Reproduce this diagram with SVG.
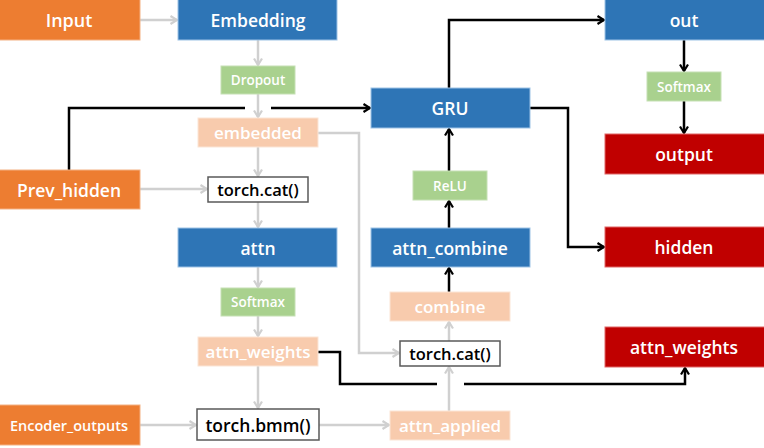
<svg xmlns="http://www.w3.org/2000/svg" width="764" height="448" viewBox="0 0 764 448">
<defs>
<style>
.t{font-family:"Open Sans","Noto Sans","DejaVu Sans",sans-serif;font-weight:600;text-anchor:middle;dominant-baseline:central;fill:#fff}
.or{fill:#ED7D31;stroke:#F4B183;stroke-width:1}
.bl{fill:#2E75B6;stroke:#9DC3E6;stroke-width:1}
.gr{fill:#A9D18E;stroke:#C5E0B4;stroke-width:1}
.pe{fill:#F8CBAD;stroke:#FBE5D6;stroke-width:1}
.rd{fill:#C00000;stroke:#E06666;stroke-width:1}
.wh{fill:#fff;stroke:#595959;stroke-width:1.5}
.g{fill:none;stroke:#D0D0D0;stroke-width:2.5}
.k{fill:none;stroke:#000;stroke-width:2.5}
</style>
<marker id="ag" viewBox="0 0 10 10" refX="8.5" refY="5" markerWidth="10" markerHeight="10" markerUnits="userSpaceOnUse" orient="auto"><path d="M2,1 L8.5,5 L2,9" fill="none" stroke="#D0D0D0" stroke-width="2.2"/></marker>
<marker id="ak" viewBox="0 0 10 10" refX="8.5" refY="5" markerWidth="10" markerHeight="10" markerUnits="userSpaceOnUse" orient="auto"><path d="M2,1 L8.5,5 L2,9" fill="none" stroke="#000" stroke-width="2.2"/></marker>
</defs>
<g id="connectors">
<path class="g" d="M140,20 H177" marker-end="url(#ag)"/>
<path class="g" d="M258,40 V65" marker-end="url(#ag)"/>
<path class="g" d="M258,94 V117" marker-end="url(#ag)"/>
<path class="k" d="M69,170 V108 H245"/>
<path class="k" d="M271,108 H370" marker-end="url(#ak)"/>
<path class="g" d="M258,147 V176" marker-end="url(#ag)"/>
<path class="g" d="M140,189 H207" marker-end="url(#ag)"/>
<path class="g" d="M258,202 V227" marker-end="url(#ag)"/>
<path class="g" d="M258,267 V287" marker-end="url(#ag)"/>
<path class="g" d="M258,316 V336" marker-end="url(#ag)"/>
<path class="g" d="M258,366 V408" marker-end="url(#ag)"/>
<path class="g" d="M140,425 H196" marker-end="url(#ag)"/>
<path class="g" d="M319,425 H389" marker-end="url(#ag)"/>
<path class="g" d="M449,411 V367" marker-end="url(#ag)"/>
<path class="g" d="M449,341 V322" marker-end="url(#ag)"/>
<path class="g" d="M318,133 H359 V353 H399" marker-end="url(#ag)"/>
<path class="k" d="M449,292 V268" marker-end="url(#ak)"/>
<path class="k" d="M449,228 V201" marker-end="url(#ak)"/>
<path class="k" d="M449,171 V129" marker-end="url(#ak)"/>
<path class="k" d="M449,88 V20 H604" marker-end="url(#ak)"/>
<path class="k" d="M530,108 H568 V247 H604" marker-end="url(#ak)"/>
<path class="k" d="M684,40 V71" marker-end="url(#ak)"/>
<path class="k" d="M684,101 V133" marker-end="url(#ak)"/>
<path class="k" d="M318,352 H340 V384 H437"/>
<path class="k" d="M464,384 H685 V368" marker-end="url(#ak)"/>
</g>
<g id="input"><rect class="or" x="-1" y="-1" width="141" height="41"/><text class="t" x="69" y="20" font-size="18">Input</text></g>
<g id="embedding"><rect class="bl" x="178" y="-1" width="159" height="41"/><text class="t" x="258" y="20" font-size="17.5">Embedding</text></g>
<g id="dropout"><rect class="gr" x="221" y="66" width="74" height="28"/><text class="t" x="258" y="80" font-size="13.5">Dropout</text></g>
<g id="embedded"><rect class="pe" x="198" y="118" width="120" height="29"/><text class="t" x="258" y="132.5" font-size="17">embedded</text></g>
<g id="prev_hidden"><rect class="or" x="-1" y="170" width="141" height="39"/><text class="t" x="69" y="189.5" font-size="17.5">Prev_hidden</text></g>
<g id="torch_cat_1"><rect class="wh" x="208" y="177" width="100" height="25"/><text class="t" x="258" y="189.5" font-size="16.5" style="fill:#000">torch.cat()</text></g>
<g id="attn"><rect class="bl" x="178" y="228" width="159" height="39"/><text class="t" x="258" y="247.5" font-size="17.5">attn</text></g>
<g id="softmax_1"><rect class="gr" x="221" y="288" width="74" height="28"/><text class="t" x="258" y="302" font-size="13.5">Softmax</text></g>
<g id="attn_weights_1"><rect class="pe" x="198" y="337" width="120" height="29"/><text class="t" x="258" y="351.5" font-size="17">attn_weights</text></g>
<g id="encoder_outputs"><rect class="or" x="-1" y="405" width="141" height="40"/><text class="t" x="69" y="425" font-size="14.5">Encoder_outputs</text></g>
<g id="torch_bmm"><rect class="wh" x="197" y="409" width="122" height="31"/><text class="t" x="258" y="424.5" font-size="17.5" style="fill:#000">torch.bmm()</text></g>
<g id="attn_applied"><rect class="pe" x="390" y="411" width="120" height="29"/><text class="t" x="450" y="425.5" font-size="17">attn_applied</text></g>
<g id="torch_cat_2"><rect class="wh" x="400" y="341" width="100" height="25"/><text class="t" x="450" y="353.5" font-size="16.5" style="fill:#000">torch.cat()</text></g>
<g id="combine"><rect class="pe" x="390" y="292" width="120" height="29"/><text class="t" x="450" y="306.5" font-size="17">combine</text></g>
<g id="attn_combine"><rect class="bl" x="371" y="228" width="159" height="39"/><text class="t" x="450" y="247.5" font-size="17.5">attn_combine</text></g>
<g id="relu"><rect class="gr" x="413" y="171" width="74" height="29"/><text class="t" x="450" y="185.5" font-size="13.5">ReLU</text></g>
<g id="gru"><rect class="bl" x="371" y="88" width="159" height="40"/><text class="t" x="450" y="108" font-size="17.5">GRU</text></g>
<g id="out"><rect class="bl" x="605" y="-1" width="160" height="41"/><text class="t" x="684" y="20" font-size="17.5">out</text></g>
<g id="softmax_2"><rect class="gr" x="647" y="72" width="74" height="29"/><text class="t" x="684" y="86.5" font-size="13.5">Softmax</text></g>
<g id="output"><rect class="rd" x="605" y="134" width="160" height="40"/><text class="t" x="684" y="154" font-size="17.5">output</text></g>
<g id="hidden"><rect class="rd" x="605" y="227" width="160" height="40"/><text class="t" x="684" y="247" font-size="17.5">hidden</text></g>
<g id="attn_weights_2"><rect class="rd" x="605" y="327" width="160" height="40"/><text class="t" x="684" y="347" font-size="17.5">attn_weights</text></g>
</svg>
